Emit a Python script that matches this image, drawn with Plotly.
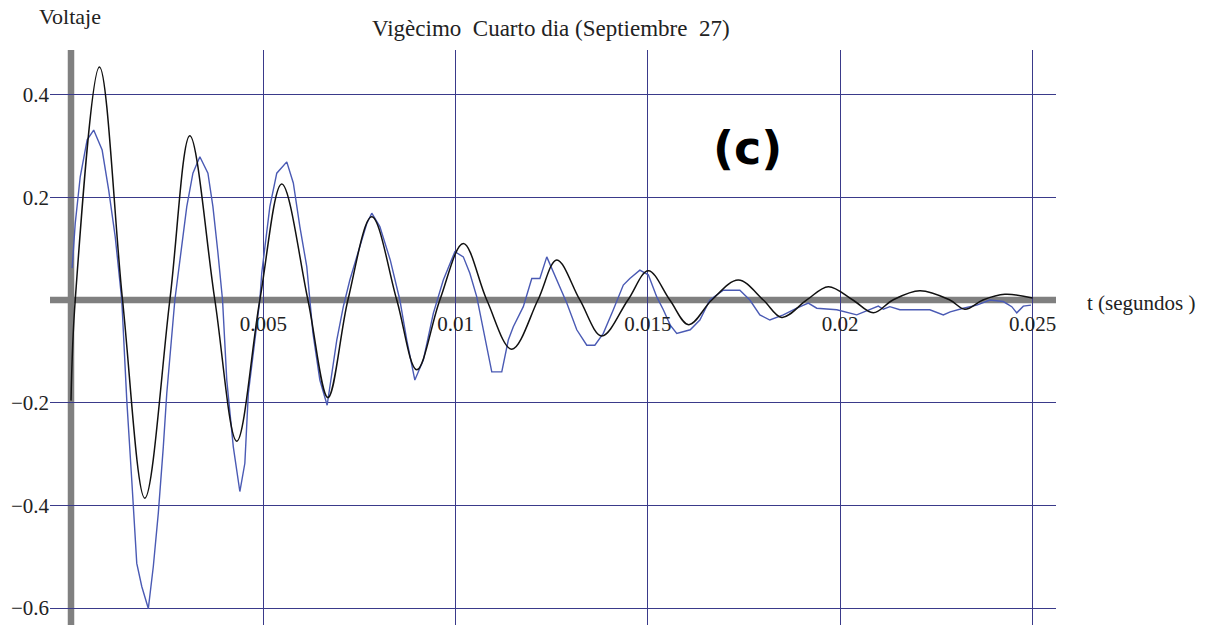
import plotly.graph_objects as go

# Simulated response (black): peaks, troughs and zero crossings, t in seconds
t_sim = [0.0, 0.00011, 0.00074, 0.00134, 0.00192, 0.00257, 0.00309, 0.00374,
         0.00431, 0.00491, 0.00548, 0.00616, 0.00668, 0.00720, 0.00782, 0.00847,
         0.00899, 0.00959, 0.01020, 0.01081, 0.01146, 0.01214, 0.01263, 0.01323,
         0.01380, 0.01448, 0.01501, 0.01557, 0.01606, 0.01666, 0.01735, 0.01800,
         0.01848, 0.01913, 0.01969, 0.02033, 0.02086, 0.02137, 0.02207, 0.02285,
         0.02324, 0.02371, 0.02428, 0.02500]
v_sim = [-0.196, 0.0, 0.454, 0.0, -0.386, 0.0, 0.320, 0.0,
         -0.275, 0.0, 0.226, 0.0, -0.190, 0.0, 0.162, 0.0,
         -0.136, 0.0, 0.110, 0.0, -0.096, 0.0, 0.078, 0.0,
         -0.070, 0.0, 0.057, 0.0, -0.048, 0.0, 0.039, 0.0,
         -0.034, 0.0, 0.026, 0.0, -0.025, 0.0, 0.018, 0.0,
         -0.018, 0.0, 0.011, 0.004]

# Measured response (blue), t in seconds
t_meas = [0.00003, 0.00011, 0.00024, 0.00042, 0.00059, 0.00081, 0.00098, 0.00115,
          0.00132, 0.00145, 0.00158, 0.00171, 0.00184, 0.00201, 0.00214, 0.00227,
          0.00240, 0.00249, 0.00270, 0.00301, 0.00317, 0.00335, 0.00356, 0.00369,
          0.00382, 0.00394, 0.00405, 0.00413, 0.00422, 0.00439, 0.00452, 0.00461,
          0.00491, 0.00496, 0.00517, 0.00535, 0.00561, 0.00578, 0.00595, 0.00613,
          0.00629, 0.00647, 0.00666, 0.00691, 0.00708, 0.00725, 0.00751, 0.00769,
          0.00782, 0.00803, 0.00830, 0.00855, 0.00873, 0.00894, 0.00916, 0.00942,
          0.00968, 0.00998, 0.01020, 0.01037, 0.01055, 0.01072, 0.01094, 0.01120,
          0.01137, 0.01150, 0.01176, 0.01198, 0.01219, 0.01237, 0.01263, 0.01289,
          0.01315, 0.01341, 0.01362, 0.01384, 0.01410, 0.01436, 0.01453, 0.01479,
          0.01501, 0.01523, 0.01540, 0.01558, 0.01575, 0.01610, 0.01635, 0.01661,
          0.01696, 0.01739, 0.01765, 0.01791, 0.01817, 0.01852, 0.01887, 0.01917,
          0.01939, 0.01991, 0.02043, 0.02077, 0.02099, 0.02112, 0.02129, 0.02155,
          0.02233, 0.02268, 0.02286, 0.02320, 0.02355, 0.02389, 0.02424, 0.02446,
          0.02459, 0.02476, 0.02496]
v_meas = [0.062, 0.149, 0.240, 0.312, 0.331, 0.292, 0.214, 0.123,
          0.0, -0.195, -0.351, -0.513, -0.558, -0.601, -0.519, -0.415,
          -0.286, -0.182, 0.0, 0.182, 0.247, 0.279, 0.247, 0.182,
          0.092, 0.0, -0.156, -0.220, -0.286, -0.373, -0.318, -0.182,
          0.0, 0.053, 0.182, 0.247, 0.269, 0.228, 0.143, 0.065,
          -0.064, -0.156, -0.205, -0.078, -0.013, 0.039, 0.104, 0.149,
          0.169, 0.143, 0.078, 0.0, -0.078, -0.156, -0.117, -0.026,
          0.039, 0.094, 0.084, 0.052, 0.006, -0.058, -0.140, -0.140,
          -0.078, -0.052, -0.013, 0.042, 0.042, 0.084, 0.039, -0.006,
          -0.058, -0.088, -0.088, -0.065, -0.019, 0.029, 0.042, 0.058,
          0.049, 0.006, -0.019, -0.049, -0.065, -0.058, -0.039, 0.0,
          0.019, 0.019, 0.0, -0.029, -0.039, -0.029, -0.016, -0.006,
          -0.016, -0.019, -0.029, -0.019, -0.012, -0.018, -0.013, -0.019,
          -0.019, -0.029, -0.023, -0.016, -0.010, 0.0, -0.003, -0.013,
          -0.025, -0.012, -0.010]

x_ticks = [0.005, 0.01, 0.015, 0.02, 0.025]
x_tick_text = ["0.005", "0.01", "0.015", "0.02", "0.025"]
y_ticks = [-0.6, -0.4, -0.2, 0.2, 0.4]
y_tick_text = ["\u22120.6", "\u22120.4", "\u22120.2", "0.2", "0.4"]

x_range = [-0.000546, 0.02561]
y_range = [-0.633, 0.4869]

SERIF = "Liberation Serif, Times New Roman, serif"
TEXT = "#222222"
GRID = "#3a3a8a"
AXIS = "#808080"

fig = go.Figure()
fig.add_trace(go.Scatter(x=t_meas, y=v_meas, mode="lines",
                         line=dict(color="#4a5ab4", width=1.4),
                         showlegend=False, hoverinfo="skip"))
fig.add_trace(go.Scatter(x=t_sim, y=v_sim, mode="lines",
                         line=dict(color="#111111", width=1.5, shape="spline", smoothing=1.0),
                         showlegend=False, hoverinfo="skip"))

# thick grey coordinate axes through the origin
fig.add_shape(type="line", xref="x", yref="y", x0=x_range[0], x1=x_range[1], y0=0, y1=0,
              line=dict(color=AXIS, width=6.5), layer="below")
fig.add_shape(type="line", xref="x", yref="y", x0=0, x1=0, y0=y_range[0], y1=y_range[1],
              line=dict(color=AXIS, width=6.5), layer="below")

# x tick labels sit just under the horizontal axis line
zero_pos = (0 - y_range[0]) / (y_range[1] - y_range[0])

fig.update_layout(
    width=1208, height=625,
    margin=dict(l=50, r=152, t=50, b=0),
    paper_bgcolor="white", plot_bgcolor="white",
    font=dict(family=SERIF, size=21, color=TEXT),
    xaxis=dict(range=x_range, tickvals=x_ticks, ticktext=x_tick_text,
               showgrid=True, gridcolor=GRID, gridwidth=1.2, zeroline=False,
               showline=False, ticks="", anchor="free", position=zero_pos,
               ticklabelstandoff=9, tickfont=dict(family=SERIF, size=21, color=TEXT)),
    yaxis=dict(range=y_range, tickvals=y_ticks, ticktext=y_tick_text,
               showgrid=True, gridcolor=GRID, gridwidth=1.2, zeroline=False,
               showline=False, ticks="", tickfont=dict(family=SERIF, size=21, color=TEXT)),
    annotations=[
        dict(text="Voltaje", xref="paper", yref="paper", x=-0.0129, y=1.059,
             xanchor="left", yanchor="middle", showarrow=False,
             font=dict(family=SERIF, size=22, color=TEXT)),
        dict(text="Vigècimo\u00a0 Cuarto dia (Septiembre\u00a0 27)", xref="paper", yref="paper",
             x=0.498, y=1.038, xanchor="center", yanchor="middle", showarrow=False,
             font=dict(family=SERIF, size=23, color=TEXT)),
        dict(text="t (segundos )", xref="paper", yref="paper", x=1.029, y=0.56,
             xanchor="left", yanchor="middle", showarrow=False,
             font=dict(family=SERIF, size=21, color=TEXT)),
        dict(text="<b>(c)</b>", xref="paper", yref="paper", x=0.693, y=0.8296,
             xanchor="center", yanchor="middle", showarrow=False,
             font=dict(family="DejaVu Sans", size=46, color="#000000")),
    ],
)

fig.write_html("out.html")
